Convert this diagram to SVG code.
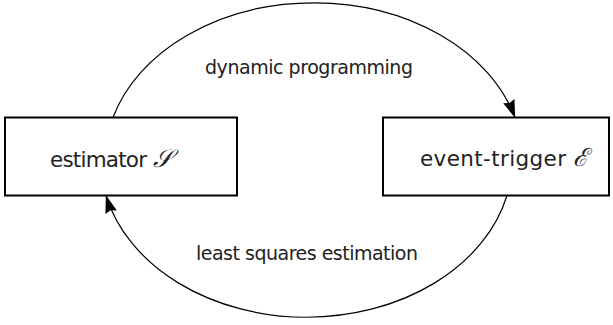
<svg xmlns="http://www.w3.org/2000/svg" width="613" height="325" viewBox="0 0 613 325">
  <style>
    .box { fill: #fff; stroke: #000; stroke-width: 2; }
    .t { font-family: "DejaVu Sans", "Liberation Sans", sans-serif; fill: #222; }
    .big { font-size: 21.5px; }
    .lab { font-size: 19px; }
    .cal { font-family: "DejaVu Serif", "Liberation Serif", serif; font-style: italic; font-size: 25px; }
    .edge { fill: none; stroke: #000; stroke-width: 1.2; }
  </style>
  <defs>
    <marker id="arr" viewBox="0 0 18 12" refX="17.5" refY="6" markerWidth="18" markerHeight="12" markerUnits="userSpaceOnUse" orient="auto">
      <path d="M0,0 L18,6 L0,12 L2,6 Z" fill="#000"/>
    </marker>
  </defs>
  <g id="connectors">
    <path class="edge" d="M113,117.5 A209,158 0 0 1 515,117.5" marker-end="url(#arr)"/>
    <path class="edge" d="M507,195.5 A206,158 0 0 1 106,195.5" marker-end="url(#arr)"/>
  </g>
  <g id="estimator">
    <rect class="box" x="5" y="117.5" width="232" height="78"/>
    <text class="t big" x="50" y="166.5"><tspan textLength="97">estimator</tspan> <tspan class="cal">𝒮</tspan></text>
  </g>
  <g id="event-trigger">
    <rect class="box" x="383" y="117.5" width="226" height="78"/>
    <text class="t big" x="420" y="166"><tspan textLength="146">event-trigger</tspan> <tspan class="cal">ℰ</tspan></text>
  </g>
  <g id="labels">
    <text class="t lab" x="205" y="73.5" textLength="208">dynamic programming</text>
    <text class="t lab" x="196" y="260" textLength="222">least squares estimation</text>
  </g>
</svg>
